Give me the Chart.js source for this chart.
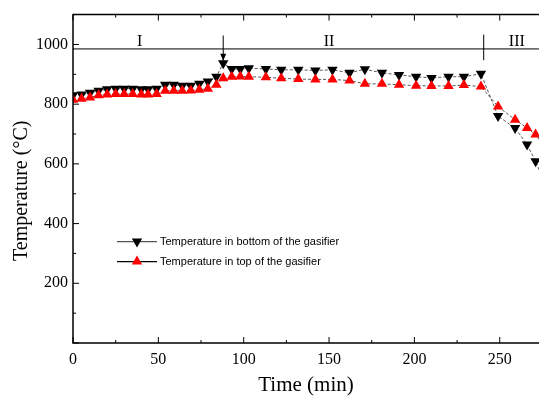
<!DOCTYPE html>
<html>
<head>
<meta charset="utf-8">
<script src="https://cdn.jsdelivr.net/npm/chart.js@4/dist/chart.umd.min.js"></script>
<style>
html, body { margin: 0; padding: 0; background: #fff; }
</style>
</head>
<body>
<canvas id="chart" width="539" height="400"></canvas>
<script>
// time in minutes
const times = [0, 5, 10, 15, 20, 25, 30, 35, 40, 44, 49, 54, 59, 64, 69, 74, 79, 84, 88,
  93, 98, 103, 113, 122, 132, 142, 152, 162, 171, 181, 191, 201, 210, 220, 229, 239,
  249, 259, 266, 271, 276];
const bottomTemp = [830, 832, 838, 845, 850, 852, 852, 852, 850, 850, 852, 865, 865, 862, 862, 868, 876, 892, 937,
  918, 918, 920, 918, 915, 915, 913, 915, 905, 917, 905, 898, 892, 888, 892, 892, 902,
  760, 720, 665, 609, 540];
const topTemp = [815, 818, 822, 830, 832, 834, 834, 834, 832, 832, 834, 845, 845, 845, 846, 848, 852, 865, 887,
  892, 893, 892, 890, 887, 884, 883, 883, 879, 868, 868, 865, 862, 861, 861, 864, 859,
  792, 748, 720, 698, 660];
const xTicks = [0, 50, 100, 150, 200, 250];
const yTicks = [200, 400, 600, 800, 1000];
const stageNames = ['I', 'II', 'III'];
const stageNameTimes = [39, 150, 260];
const stageLineTemp = 985;
const arrowTime = 88;
const stageBorderTime = 240.6;

const serif = 'Liberation Serif';

function tri(ctx, cx, cy, r, rot) {
  ctx.beginPath();
  for (let k = 0; k < 3; k++) {
    const ang = rot + k * 2 * Math.PI / 3;
    const px = cx + Math.sin(ang) * r, py = cy - Math.cos(ang) * r;
    if (k) ctx.lineTo(px, py); else ctx.moveTo(px, py);
  }
  ctx.closePath();
  ctx.fill();
}

const stages = {
  id: 'stages',
  beforeDatasetsDraw(chart) {
    const {ctx, chartArea: a, scales: {x, y}} = chart;
    ctx.save();
    ctx.strokeStyle = '#000';
    ctx.lineWidth = 1;
    const yl = y.getPixelForValue(stageLineTemp);
    ctx.beginPath();
    ctx.moveTo(a.left, yl); ctx.lineTo(a.right, yl);
    const xb = x.getPixelForValue(stageBorderTime);
    ctx.moveTo(xb, y.getPixelForValue(1033)); ctx.lineTo(xb, y.getPixelForValue(947));
    const xa = x.getPixelForValue(arrowTime);
    const ya = y.getPixelForValue(945);
    ctx.moveTo(xa, y.getPixelForValue(1030)); ctx.lineTo(xa, ya);
    ctx.stroke();
    ctx.fillStyle = '#000';
    ctx.beginPath();
    ctx.moveTo(xa, ya); ctx.lineTo(xa - 3, ya - 7); ctx.lineTo(xa + 3, ya - 7); ctx.closePath();
    ctx.fill();
    ctx.font = '16px "' + serif + '"';
    ctx.textAlign = 'center';
    ctx.textBaseline = 'middle';
    stageNames.forEach((s, i) => {
      ctx.fillText(s, x.getPixelForValue(stageNameTimes[i]), y.getPixelForValue(1010));
    });
    ctx.restore();
  },
  afterDraw(chart) {
    const {ctx, chartArea: a, scales: {x, y}} = chart;
    ctx.save();
    ctx.strokeStyle = '#000';
    ctx.lineWidth = 1.5;
    ctx.beginPath();
    ctx.moveTo(a.right, a.top); ctx.lineTo(a.left, a.top); ctx.lineTo(a.left, a.bottom); ctx.lineTo(a.right, a.bottom);
    ctx.stroke();
    ctx.lineWidth = 1;
    ctx.beginPath();
    for (let v = 0; v <= x.max; v += 25) {
      const px = x.getPixelForValue(v);
      const len = v % 50 === 0 ? 6 : 3;
      ctx.moveTo(px, a.bottom); ctx.lineTo(px, a.bottom - len);
      ctx.moveTo(px, a.top); ctx.lineTo(px, a.top + len);
    }
    for (let v = 0; v <= y.max; v += 100) {
      const py = y.getPixelForValue(v);
      const len = v % 200 === 0 ? 6 : 3;
      ctx.moveTo(a.left, py); ctx.lineTo(a.left + len, py);
    }
    ctx.stroke();

    // y title, a bit below the plot centre like the original
    ctx.fillStyle = '#000';
    ctx.font = '20px "' + serif + '"';
    ctx.textAlign = 'center';
    ctx.textBaseline = 'middle';
    ctx.translate(22, (a.top + a.bottom) / 2 + 12);
    ctx.rotate(-Math.PI / 2);
    ctx.fillText('Temperature (°C)', 0, 0);
    ctx.setTransform(1, 0, 0, 1, 0, 0);

    // legend inside the plot
    const entries = [
      {ds: chart.data.datasets[0], rot: Math.PI, line: '#555', dy: 227},
      {ds: chart.data.datasets[1], rot: 0, line: '#000', dy: 247}
    ];
    ctx.font = '11px "Liberation Sans"';
    ctx.textAlign = 'left';
    entries.forEach(e => {
      const yy = a.top + e.dy;
      ctx.strokeStyle = e.line;
      ctx.lineWidth = 1.2;
      ctx.beginPath();
      ctx.moveTo(a.left + 44, yy); ctx.lineTo(a.left + 84, yy);
      ctx.stroke();
      ctx.fillStyle = e.ds.pointBackgroundColor;
      tri(ctx, a.left + 64, yy, 6, e.rot);
      ctx.fillStyle = '#000';
      ctx.fillText(e.ds.label, a.left + 87, yy);
    });
    ctx.restore();
  }
};

new Chart(document.getElementById('chart'), {
  type: 'line',
  data: {
    datasets: [
      {
        label: 'Temperature in bottom of the gasifier',
        data: times.map((t, i) => ({x: t, y: bottomTemp[i]})),
        borderColor: '#555',
        borderWidth: 1,
        borderDash: [3, 2],
        pointStyle: 'triangle',
        rotation: 180,
        pointRadius: 6,
        pointBackgroundColor: '#000',
        pointBorderColor: '#000',
        pointBorderWidth: 0,
        order: 1
      },
      {
        label: 'Temperature in top of the gasifier',
        data: times.map((t, i) => ({x: t, y: topTemp[i]})),
        borderColor: '#555',
        borderWidth: 1,
        borderDash: [3, 2],
        pointStyle: 'triangle',
        pointRadius: 6,
        pointBackgroundColor: '#ff0000',
        pointBorderColor: '#ff0000',
        pointBorderWidth: 0,
        order: 0
      }
    ]
  },
  options: {
    responsive: false,
    animation: false,
    layout: {autoPadding: false, padding: {top: 13, right: 0, left: 0, bottom: 0}},
    plugins: {
      legend: {display: false},
      tooltip: {enabled: false}
    },
    scales: {
      x: {
        type: 'linear',
        min: 0,
        max: 273,
        grid: {display: false, drawTicks: false, tickLength: 0},
        border: {display: false},
        afterBuildTicks: s => { s.ticks = xTicks.map(v => ({value: v})); },
        afterFit: s => { s.height = 57; },
        ticks: {padding: 7, autoSkip: false, maxRotation: 0, color: '#000', font: {family: serif, size: 16}},
        title: {display: true, text: 'Time (min)', color: '#000', font: {family: serif, size: 21}, padding: {top: 0, bottom: 2}}
      },
      y: {
        min: 0,
        max: 1100,
        grid: {display: false, drawTicks: false, tickLength: 0},
        border: {display: false},
        afterBuildTicks: s => { s.ticks = yTicks.map(v => ({value: v})); },
        afterFit: s => { s.width = 73; },
        ticks: {padding: 5, color: '#000', font: {family: serif, size: 16}, callback: v => String(v)}
      }
    }
  },
  plugins: [stages]
});
</script>
</body>
</html>
